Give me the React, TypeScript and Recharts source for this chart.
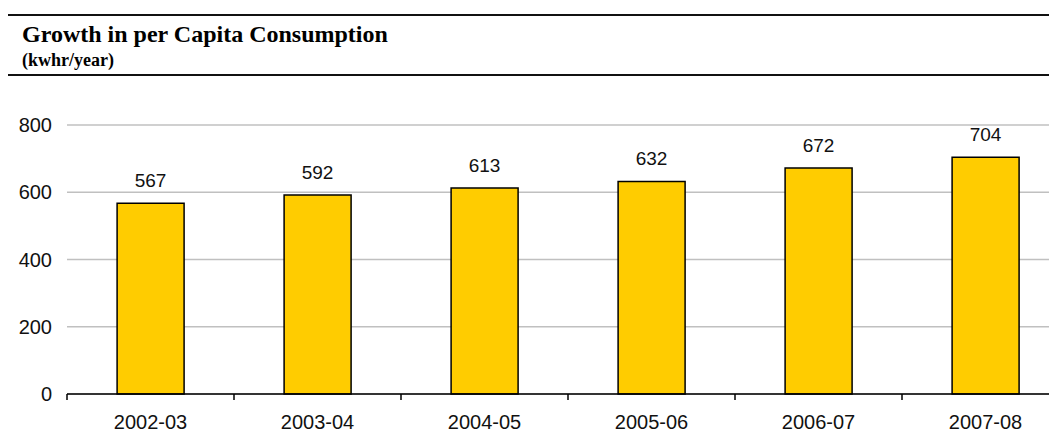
import React from "react";
import { BarChart, Bar, XAxis, YAxis, CartesianGrid, LabelList } from "recharts";

const categories = ["2002-03", "2003-04", "2004-05", "2005-06", "2006-07", "2007-08"];
const values = [567, 592, 613, 632, 672, 704];
const yTicks = [0, 200, 400, 600, 800];

const data = categories.map((c, i) => ({ year: c, value: values[i] }));

const FONT = "'Liberation Sans', Arial, sans-serif";
const axisFont = { fontFamily: FONT, fontSize: 20, fill: "#111" };
const labelFont = { fontFamily: FONT, fontSize: 19, fill: "#111" };

const TICK_MARGIN = 21;

const CategoryTick = (props: any) => {
  const { x, y, payload, index, width, visibleTicksCount } = props;
  const band = width / visibleTicksCount;
  const axisY = y - TICK_MARGIN;
  const left = x - band / 2;
  return (
    <g>
      <line x1={left} x2={left} y1={axisY} y2={axisY + 6} stroke="#000" strokeWidth={1.5} />
      {index === visibleTicksCount - 1 ? (
        <line x1={x + band / 2} x2={x + band / 2} y1={axisY} y2={axisY + 6} stroke="#000" strokeWidth={1.5} />
      ) : null}
      <text x={x} y={y} dy="0.71em" textAnchor="middle" fontFamily={FONT} fontSize={20} fill="#111">
        {payload.value}
      </text>
    </g>
  );
};

export default function App() {
  return (
    <div style={{ position: "relative", width: 1049, height: 421, overflow: "hidden", background: "#fff" }}>
      <div style={{ position: "absolute", left: 0, top: 6, width: 1049, height: 2, background: "#111" }} />
      <div
        style={{
          position: "absolute",
          left: 14,
          top: 12,
          fontFamily: "'Liberation Serif', 'Times New Roman', serif",
          fontWeight: "bold",
          fontSize: 24,
          color: "#000",
          whiteSpace: "nowrap",
          lineHeight: "28px",
        }}
      >
        Growth in per Capita Consumption
      </div>
      <div
        style={{
          position: "absolute",
          left: 14,
          top: 42,
          fontFamily: "'Liberation Serif', 'Times New Roman', serif",
          fontWeight: "bold",
          fontSize: 18,
          color: "#000",
          whiteSpace: "nowrap",
          lineHeight: "20px",
        }}
      >
        (kwhr/year)
      </div>
      <div style={{ position: "absolute", left: 0, top: 66, width: 1049, height: 2, background: "#111" }} />
      <div style={{ position: "absolute", left: 0, top: 0 }}>
        <BarChart
          width={1061}
          height={421}
          data={data}
          margin={{ top: 117, right: 0, bottom: 0, left: 0 }}
          barCategoryGap="30%"
        >
          <CartesianGrid vertical={false} stroke="#c0c0c0" strokeWidth={1.5} />
          <XAxis
            dataKey="year"
            type="category"
            height={35}
            tickLine={false}
            tickSize={0}
            axisLine={{ stroke: "#000", strokeWidth: 1.5 }}
            tick={CategoryTick}
            tickMargin={TICK_MARGIN}
            interval={0}
          />
          <YAxis
            width={59}
            domain={[0, 800]}
            ticks={yTicks}
            axisLine={false}
            tickLine={false}
            tick={axisFont}
            tickMargin={9}
            interval={0}
          />
          <Bar dataKey="value" fill="#FFCC00" stroke="#000" strokeWidth={1.5} isAnimationActive={false}>
            <LabelList dataKey="value" position="top" offset={16} style={labelFont} />
          </Bar>
        </BarChart>
      </div>
    </div>
  );
}
